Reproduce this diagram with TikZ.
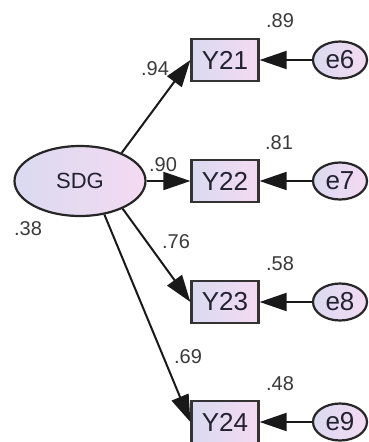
\documentclass[tikz,border=0pt]{standalone}
\usepackage{fontspec}
\setmainfont{Liberation Sans}
\usetikzlibrary{arrows.meta,shapes.geometric}
\definecolor{txt}{HTML}{222230}
\definecolor{num}{HTML}{3A3A3A}
\definecolor{lav}{HTML}{DADAF0}
\definecolor{pnk}{HTML}{F4DAF2}
\begin{document}
\begin{tikzpicture}[x=1pt,y=-1pt,
  latent/.style={ellipse, draw=black!85, line width=2.2pt, left color=lav, right color=pnk, inner sep=0pt, text=txt},
  obs/.style={rectangle, draw=black!80, line width=2.2pt, left color=lav, right color=pnk, minimum width=67pt, minimum height=42pt, inner sep=0pt, text=txt, font=\fontsize{26}{26}\selectfont},
  err/.style={latent, minimum width=54pt, minimum height=37pt, font=\fontsize{26}{26}\selectfont},
  pth/.style={line width=2pt, draw=black!90, -{Triangle[length=27pt,width=18pt]}},
  coef/.style={text=num, font=\fontsize{20}{20}\selectfont, inner sep=0pt}]
\useasboundingbox (0,0) rectangle (369,442);
\clip (0,0) rectangle (369,442);
\fill[white] (0,0) rectangle (369,442);

\node[latent, minimum width=131pt, minimum height=70pt, font=\fontsize{22}{22}\selectfont] (SDG) at (80,181) {SDG};

\node[obs] (Y21) at (225,60) {Y21};
\node[obs] (Y22) at (225,181) {Y22};
\node[obs] (Y23) at (225,302) {Y23};
\node[obs] (Y24) at (225,422) {Y24};

\node[err] (e6) at (340,60) {e6};
\node[err] (e7) at (340,181) {e7};
\node[err] (e8) at (340,302) {e8};
\node[err] (e9) at (340,422) {e9};

\draw[pth] (SDG.34) -- (Y21.west);
\draw[pth] (SDG.east) -- (Y22.west);
\draw[pth] (SDG.-33) -- (Y23.west);
\draw[pth] (SDG.-54) -- (Y24.west);

\draw[pth] (e6.west) -- (Y21.east);
\draw[pth] (e7.west) -- (Y22.east);
\draw[pth] (e8.west) -- (Y23.east);
\draw[pth] (e9.west) -- (Y24.east);

\node[coef] (c94) at (155,69) {.94};
\node[coef] (c90) at (163,165) {.90};
\node[coef] (c76) at (176,242) {.76};
\node[coef] (c69) at (188,357) {.69};
\node[coef] (c38) at (28,229) {.38};
\node[coef] (c89) at (280,21) {.89};
\node[coef] (c81) at (279,143) {.81};
\node[coef] (c58) at (280,264) {.58};
\node[coef] (c48) at (280,384) {.48};
\end{tikzpicture}
\end{document}
